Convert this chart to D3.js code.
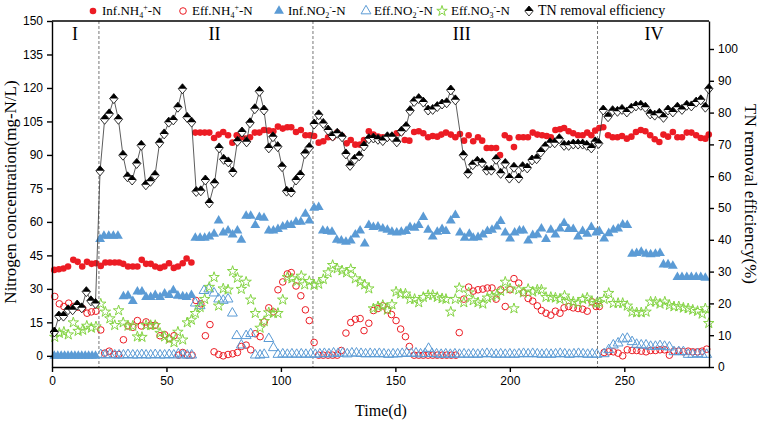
<!DOCTYPE html>
<html>
<head>
<meta charset="utf-8">
<style>
    body { margin: 0; background: #fff; }
    svg { font-family: 'Liberation Serif', 'Times New Roman', serif; }
    .axis path, .axis line { stroke: #000; stroke-width: 1.4; }
    .axis text { font-size: 12px; fill: #000; }
</style>
</head>
<body>
<svg width="762" height="425"></svg>

<script src="https://d3js.org/d3.v7.min.js"></script>
<script>
// [day, value] pairs
let infNH4 = [[1,38.5],[3,38.8],[5,39.1],[7,40],[9.3,43],[11.2,42.1],[13.2,40],[15.3,42.1],[17.3,41.2],[19.2,41.5],[21.3,40.3],[23.3,41.8],[25.3,41.8],[27.4,41.8],[29.3,41.8],[31.1,41.2],[33.2,40],[35.3,40],[37.3,40],[39.2,43],[41.1,41.2],[43.1,41.2],[45.1,40],[47.2,39.4],[49.1,40],[51.1,41.5],[53.2,39.4],[55,40],[57.1,41.5],[58.8,43.6],[60.9,41.8],
    [62.6,100],[64.7,100],[66.7,100],[68.7,100],[70.8,97.6],[72.8,99.1],[74.8,100.3],[76.9,98.8],[78.8,95.5],[80.7,98.8],[82.6,97.9],[84.6,97.3],[86.5,97.9],[88.6,100],[90.6,100],[92.6,101.2],[94.7,100.9],[96.7,100.6],[98.7,102.7],[100.8,101.8],[102.8,102.4],[104.5,102.4],[106.6,100.3],[108.7,101.2],[110.7,98.8],[112.7,98.8],[114.5,98.5],[116.5,95.5],[118.5,96.1],[120.6,97.9],[122.6,97.9],[124.6,100],[126.7,98.5],[128.7,95.2],[130.5,96.7],[132.5,94.6],[134.6,94.6],[136.3,96.7],[138.4,100.6],[140.4,99.1],[142.4,98.2],[144.5,97.9],[146.5,97.9],[148.5,98.2],[150.6,99.7],[152.3,100],[154.1,96.7],[156.1,96.4],[158.2,100.3],[160.2,100.6],[162.2,99.7],[164.3,97.9],[166.3,98.5],[168.3,98.2],[170.1,99.1],[172.1,100],[174.2,99.1],[176.2,97.9],[178.2,99.4],[180,96.4],[182,98.8],[184,96.1],[186.1,97.9],[187.9,96.4],[189.9,93.1],[191.9,93.1],[194,93.1],[195.7,89.9],[197.8,98.8],[199.8,97.6],[201.8,93.5],[203.9,97.9],[205.9,97.9],[207.9,97.9],[210,100],[212,99.1],[214.1,98.8],[216.1,98.5],[217.9,97.9],[219.9,101.2],[221.9,101.5],[223.7,102.1],[225.7,100.6],[227.7,99.7],[229.8,98.8],[231.8,98.8],[233.8,100],[235.6,98.8],[237.3,100.9],[239.1,102.1],[240.8,102.4],[242.9,98.8],[244.9,97.9],[247,97.9],[249,98.5],[251.1,97.3],[253.1,98.2],[255.1,100.3],[257.2,101.2],[259.2,100.6],[261.3,98.8],[263.3,97],[265.3,95.8],[267.1,99.1],[269.1,98.2],[271.2,100.3],[273.2,97.9],[275.2,97.9],[277.3,100],[279.3,100],[281.4,98.8],[283.4,97.6],[285.4,97.3],[286.9,99.1]]

let effNH4 = [[1.2,26.6],[3.2,23.3],[5.2,22.1],[7.3,23.6],[9.3,22.1],[11.4,21.8],[13.4,21.2],[15.3,19.1],[17.2,19.7],[19.2,20],[21.3,11.6],[23,1.2],[25,2.1],[27.1,0.6],[29.1,0.6],[31.2,7.2],[33.2,13.4],[35.3,12.8],[37.3,15.8],[39,13.4],[41.1,15.2],[43.1,13.7],[45.1,13.7],[47.2,9],[49.2,9.5],[51.2,7.7],[53.3,9],[55.3,0.3],[57.1,1.5],[59.1,0.3],[61.2,0.3],[62.9,24.8],[65,23.3],[67,9],[69,14],[70.8,1.8],[72.8,0.6],[74.8,0],[76.9,0.6],[78.9,0.9],[81,1.5],[82.7,4.2],[84.8,4.8],[86.8,2.7],[88.8,9.9],[90.9,8.6],[92.7,15.2],[94.7,21.5],[96.7,19.7],[98.7,29.6],[100.8,33.1],[102.8,36.7],[104.5,37.3],[106.6,31.3],[108.7,26.9],[110.7,20.6],[112.4,15.8],[114.5,6],[116.5,0.3],[118.5,0.3],[120.6,0.3],[122.6,0.3],[124.6,0.3],[126.4,2.4],[128.4,10.2],[130.5,14.9],[132.5,16.4],[134.6,16.7],[136.3,11.3],[138.4,14.6],[140.4,20.3],[142.4,21.2],[144.5,22.4],[146.5,20.6],[148.3,18.5],[150.3,15.8],[152.3,12],[154.4,8.6],[156.1,4.2],[158.2,0.3],[160.2,0.3],[162.2,0.3],[164.3,0.3],[166.3,0.3],[168.3,0.3],[170.4,0.3],[172.4,0.3],[174.4,0.3],[176.4,0.3],[177.9,10.4],[179.9,25.4],[182,30.8],[184,29],[186.1,29.6],[188.2,29.9],[190.2,30.4],[192.2,30.4],[194,25.4],[196,29.6],[198,22.1],[200.1,29.6],[201.8,34.6],[203.9,32.6],[205.9,28.3],[208,25.7],[210,24.5],[212,22.4],[213.8,20.3],[215.8,19.1],[217.9,18.2],[219.9,20],[221.9,19.1],[223.7,21.5],[225.7,22.1],[227.7,21.5],[229.8,21.2],[231.8,20.9],[233.8,20],[235.9,24.2],[237.7,22.1],[239.1,22.1],[241.2,1.5],[243.2,1.8],[245.2,1.8],[247.3,1.2],[249.3,0],[251.3,2.7],[253.4,2.4],[255.4,2.4],[257.4,2.1],[259.5,1.8],[261.5,2.4],[263.6,2.4],[265.6,2.7],[267.6,2.7],[269.7,0.3],[271.7,2.1],[273.8,2.1],[275.8,1.8],[277.9,2.1],[279.9,1.8],[282,1.8],[284,2.1],[286,3]]

let infNO2 = [[1,0],[2.5,0],[4,0],[5.5,0],[7,0],[8.5,0],[10,0],[11.5,0],[13,0],[14.5,0],[16,0],[17.5,0],[19,0],
    [21,52.3],[22.7,53.7],[24.8,53.7],[26.8,53.7],[28.8,53.7],[31.2,26.6],[33.2,26.9],[35.3,24.5],[37.3,28.7],[39.3,28.7],[41.1,26.3],[43.1,26.3],[45.1,27.2],[47.2,26.3],[49.2,27.8],[51.2,27.2],[53,29.3],[55,26.9],[57.1,26.6],[58.8,26.3],[60.9,27.2],
    [62.6,52.8],[64.7,52.8],[66.7,52.8],[68.7,53.4],[70.8,54.6],[72.8,60.6],[74.8,55.2],[76.9,56.1],[78.9,54.3],[81,56.1],[82.7,51.9],[84.8,62.7],[86.8,62.7],[88.8,58.5],[90.6,62.1],[92.6,61.8],[94.7,56.1],[96.7,56.1],[98.7,56.7],[100.8,57.9],[102.8,58.5],[104.5,58.5],[106.6,60],[108.7,60],[110.7,63.6],[112.4,60.6],[114.5,66.3],[116.5,66.6],[118.3,56.1],[120.3,55.8],[122.3,55.5],[124.4,51.9],[126.4,51.6],[128.4,51],[130.5,51.6],[132.5,54.3],[134.6,56.1],[136.6,50.2],[138.4,58.5],[140.4,57.6],[142.4,57.9],[144.5,57],[146.5,56.4],[148.5,55.5],[150.6,55.2],[152.6,55.5],[154.7,55.8],[156.4,57.6],[158.4,57.3],[160.2,58.5],[162.2,62.1],[164.3,56.4],[166.3,53.4],[168.3,55.5],[170.4,56.7],[172.1,55.8],[174.2,60.6],[176.2,63],[178.2,55.2],[180.3,52.8],[182.3,54.6],[184,52.8],[186.1,53.1],[188.2,54.3],[190.2,55.8],[192.2,56.4],[194.3,57.9],[196,60.3],[198,55.2],[200.1,52.5],[202.1,55.2],[204.2,56.1],[205.9,56.1],[208,51.6],[210,54],[212,54.3],[213.8,57],[215.8,52.3],[217.9,56.4],[219.9,54.3],[221.9,57],[223.7,59.4],[225.7,56.7],[227.7,56.7],[229.8,53.4],[231.8,55.8],[233.8,54.6],[235.6,57.6],[237.7,55.2],[239.1,55.8],[241.2,52.5],[243.2,54.9],[245.2,56.4],[247.3,57],[249.3,58.8],[251.3,58.5],[253.4,45.7],[255.4,46],[257.4,46.6],[259.5,45.7],[261.5,45.4],[263.6,45.7],[265.6,46],[267.1,40.9],[269.1,40.9],[271.2,40.3],[273.2,35.2],[275.2,35.2],[277.3,35.2],[279.3,35.2],[281.4,35.2],[283.4,35.2],[285.4,34.9]]

let effNO2 = [[21.3,0.5],[23.3,0.3],[25.3,0.5],[27.4,0.3],[29.3,0.3],[31.2,0.3],[33.2,0.5],[35.3,0.3],[37.3,0.3],[39.2,0.5],[41.1,0.3],[43.1,0.3],[45.1,0.5],[47.2,0.3],[49.2,0.3],[51.2,0.5],[53.2,0.3],[55.2,0.8],[57.1,0.3],[59.1,0.3],[61,0.3],
    [62.6,23.6],[64.7,22.4],[66.4,29.2],[68.5,29.9],[70.8,28.1],[72.8,25.4],[74.8,24.8],[76.9,25.4],[78.8,19.1],[80.7,9],[82.7,4.8],[84.8,9],[86.8,9.9],[88.8,0.3],[90.9,0.3],[92.7,0.6],[94.7,7.7],[96.7,3.6],[98.7,0.6],
    [100.8,0.8],[102.8,0.6],[104.8,0.8],[106.9,0.6],[108.9,0.8],[110.9,0.6],[113,0.8],[115,0.6],[117,0.8],[119,1],[121,0.8],[123,1.2],[125,1],[127,1.2],[129,0.8],[131,1.2],[133,1.2],[135,1],[137,0.8],[139,1],[141,0.8],[143,1],[145,0.8],[147,0.6],[149,0.8],[151,0.8],[153,1],[155,1.2],[157,1],[159,1.2],[161,0.8],[163,1],[164.5,3.3],[166,1],[168,0.8],[170,0.6],[172,0.8],[174,0.6],[176,0.8],[178,0.6],[180,0.8],[182,0.6],[184,0.8],[186,0.6],[188,0.8],[190,1],[192,0.8],[194,0.6],[196,0.8],[198,0.6],[200,0.8],[202,0.6],[204,0.8],[206,1],[208,0.8],[210,1],[212,0.8],[214,0.6],[216,0.8],[218,0.6],[220,0.8],[222,1],[224,0.8],[226,0.6],[228,0.8],[230,1],[232,0.8],[234,0.6],[236,0.8],[238,0.6],
    [241.2,0.9],[243.2,2.7],[245.2,4.8],[247.3,5.7],[249.3,7.5],[251.3,7.8],[253.4,6.3],[255.4,5.1],[257.4,4.8],[259.5,4.8],[261.5,4.2],[263.6,4.2],[265.6,4.5],[267.6,4.2],[269.7,3.9],[271.7,1.8],[273.8,1.8],[275.8,1.8],[277.9,0.6],[279.9,0.6],[282,0.9],[284,0.6],[286,0.6]]

let effNO3 = [[1.2,8.4],[3.2,10.2],[5.2,10.7],[7.1,9.5],[9.3,14.9],[11.4,11.1],[13.4,11.6],[15.2,13.4],[17.2,12.5],[19.2,13.1],[21.3,23.3],[23.3,19.7],[25.3,16.7],[27.4,13.7],[29.1,20.3],[31.1,14.9],[33.2,13.4],[35.3,13.4],[37.3,8.6],[39.3,8.4],[41.1,13.7],[43.1,13.7],[45.1,13.7],[47.2,10.2],[49.2,8.6],[51.2,7.5],[53.3,6],[55,10.7],[57.1,7.2],[59.1,14.9],[60.9,16.1],[62.6,19.1],[64.7,21.8],[66.7,25.4],[68.7,30.8],[70.8,35.2],[72.8,22.4],[74.8,30.1],[76.9,29.6],[78.9,37.9],[81,34.9],[82.7,29.9],[84.8,33.1],[86.8,25.1],[88.8,19.1],[90.9,12.5],[92.7,15.5],[94.7,19.4],[96.7,19.1],[98.7,19.1],[100.8,25.1],[102.8,35.2],[104.8,34.6],[106.9,33.4],[108.9,35.8],[110.4,31.9],[112.4,33.4],[114.5,31.7],[116.5,32.2],[118.5,34.3],[120.6,37.3],[122.6,40.6],[124.6,39.1],[126.7,38.2],[128.7,37.3],[130.5,38.8],[132.5,34.6],[134.6,33.1],[136.6,31.9],[138.4,30.1],[140.4,21.2],[142.4,22.1],[144.5,22.7],[146.5,20.6],[148.5,23],[150.3,28.7],[152.3,27.8],[154.4,27.8],[156.4,25.4],[158.4,25.4],[160.2,23.9],[162.2,26.3],[164.3,27.2],[166.3,27.2],[168.3,26.3],[170.4,25.7],[172.1,25.4],[174.2,19.7],[176.2,25.4],[177.9,30.4],[179.9,23.9],[182,28.3],[184,24.8],[186.1,23.9],[188.2,23.3],[190.2,26],[192.2,26.6],[194.3,27.2],[196,29],[198,33.1],[200.1,30.1],[201.8,21.2],[203.9,29.6],[205.9,28.3],[208,29.9],[210,28.7],[212,29.6],[213.8,29.6],[215.8,26.3],[217.9,26.3],[219.9,26],[221.9,25.4],[223.9,26.9],[225.7,24.5],[227.7,24.2],[229.8,23.6],[231.8,25.4],[233.8,26],[235.9,24.2],[237.9,23.6],[239.1,23.9],[241.2,25.4],[243.2,28.1],[245.2,23.6],[247.3,23.6],[249.3,23.6],[251.3,22.4],[253.4,19.7],[255.4,19.4],[257.4,19.4],[259.5,19.7],[261.5,24.2],[263.6,24.2],[265.6,23.3],[267.7,24.2],[269.7,22.7],[271.7,22.1],[273.8,22.1],[275.8,21.5],[277.9,21.2],[279.9,20.6],[282,20],[284,18.8],[285.4,21.2],[286.9,14.6]]

// TN removal efficiency (%), right axis
let tnRemoval = [[1,11],[3,16],[5,16],[7,18],[9,18],[11,19.5],[13,18.6],[15,23.7],[17,20.8],[19,20],[21,61.7],[23,77.9],[25,79.6],[27,84.4],[29,77.9],[31,66.6],[33,59.8],[35,58.8],[37,64],[39,69.7],[41,57.3],[43,58.4],[45,60.3],[47,70.5],[49,73.3],[51,77],[53,77.7],[55,81.7],[57,87.5],[59,78.5],[61,77],[63,55.2],[65,55.4],[67,58.8],[68.7,51.6],[71,57.8],[73,68.9],[75,65.3],[77,64.5],[79,61.3],[81,71],[83,73.9],[85,70.8],[86.5,76.8],[88.6,81.2],[90.6,86.7],[92.6,80.8],[94.7,68.9],[96.5,72.4],[98.6,69.3],[100.5,63],[102.5,55.3],[104.5,55],[106.6,58.8],[108.5,60.4],[110.5,67.1],[112.4,69],[114.5,76.4],[116.5,79.3],[118.5,76.6],[120.6,74.5],[122.6,72.6],[124.6,73.5],[126.7,72.4],[128.4,67],[130.2,63.4],[132.2,65.3],[134.2,66.4],[136.3,69.5],[138.4,71.8],[140.4,72],[142.4,71.6],[144.5,71.2],[146.5,72.4],[148.5,72.4],[150.6,70.8],[152.6,74.1],[154.7,75.6],[156.4,80.6],[158.2,83.5],[160.2,84.4],[162.2,83.3],[164.3,80.8],[166.3,81],[168.3,81.9],[170.4,82.7],[172.4,83.1],[174.2,87.1],[176.2,84],[179.7,66.6],[181.7,60.9],[183.8,63.6],[185.8,64.7],[187.9,64.2],[189.9,61.9],[191.9,61.9],[194,65.3],[196,60.9],[198,64],[199.8,59.4],[201.8,62.8],[203.9,59.4],[205.6,63],[207.6,62.6],[209.7,65.1],[211.7,65.5],[213.5,67.6],[215.5,69.3],[217.6,70.5],[219.6,70.5],[221.6,71.8],[223.7,69.7],[225.7,69.7],[227.7,70.1],[229.8,70.1],[231.8,70.1],[233.6,69.7],[235.6,68.9],[237.3,70.8],[238.8,70.3],[240.8,80.8],[242.9,78.7],[244.9,80.6],[247,80.4],[249,81],[251.1,80.2],[253.1,81.4],[255.1,82.1],[257.2,82.3],[259.2,81.7],[261.3,79.6],[263.3,79.2],[265.3,79.8],[267.1,78.5],[269.1,80.8],[271.2,80.2],[273.2,81.7],[275.2,81],[277.3,82.3],[279.3,82.1],[281.4,83.3],[283.4,84],[285.4,81.7],[286.9,87.5]]

let phaseBreaks = [20.5, 114, 238.3]
let phaseLabels = [["I", 10], ["II", 71], ["III", 179], ["IV", 263]]
let leftTicks = d3.range(0, 151, 15)
let rightTicks = d3.range(0, 101, 10)
let xTicks = [0, 50, 100, 150, 200, 250]

let red = "#ec1c24"
let blue = "#5b9bd5"
let green = "#84d444"

let svg = d3.select("svg")

let x = d3.scaleLinear().domain([0, 287]).range([52, 709])
let yL = d3.scaleLinear().domain([-5, 150]).range([367, 21])
let yR = d3.scaleLinear().domain([0, 108.8]).range([367, 21])

// phase dividers
svg.append("g")
    .selectAll("line")
    .data(phaseBreaks)
    .join("line")
    .attr("x1", d => x(d)).attr("x2", d => x(d))
    .attr("y1", 21).attr("y2", 367)
    .attr("stroke", "#777")
    .attr("stroke-width", 1)
    .attr("stroke-dasharray", "3,2")

svg.append("g")
    .selectAll("text")
    .data(phaseLabels)
    .join("text")
    .attr("x", d => x(d[1]))
    .attr("y", 40)
    .attr("text-anchor", "middle")
    .style("font-size", "18px")
    .text(d => d[0])

let tri = d3.symbol().type(d3.symbolTriangle).size(42)
let star = d3.symbol().type(d3.symbolStar).size(34)

function symbols(data, y, path, fill, stroke) {
    svg.append("g")
        .selectAll("path")
        .data(data)
        .join("path")
        .attr("transform", d => `translate(${x(d[0])},${y(d[1])})`)
        .attr("d", path)
        .attr("fill", fill)
        .attr("stroke", stroke)
        .attr("stroke-width", 1)
}

function circles(data, fill, stroke) {
    svg.append("g")
        .selectAll("circle")
        .data(data)
        .join("circle")
        .attr("cx", d => x(d[0]))
        .attr("cy", d => yL(d[1]))
        .attr("r", 3.3)
        .attr("fill", fill)
        .attr("stroke", stroke)
        .attr("stroke-width", 1)
}

circles(infNH4, red, "none")
circles(effNH4, "none", red)
symbols(infNO2, yL, tri(), blue, "none")
symbols(effNO2, yL, tri(), "none", blue)
symbols(effNO3, yL, star(), "none", green)

// TN line + half filled diamonds
let line = d3.line().x(d => x(d[0])).y(d => yR(d[1]))
svg.append("path")
    .datum(tnRemoval)
    .attr("d", line)
    .attr("fill", "none")
    .attr("stroke", "#333")
    .attr("stroke-width", 0.8)

function tnMarker(g) {
    g.append("path").attr("d", "M0,-5L4.2,0L0,5L-4.2,0Z")
        .attr("fill", "#fff").attr("stroke", "#000").attr("stroke-width", 0.8)
    g.append("path").attr("d", "M0,-5L4.2,0L-4.2,0Z").attr("fill", "#000")
}

svg.append("g")
    .selectAll("g")
    .data(tnRemoval)
    .join("g")
    .attr("transform", d => `translate(${x(d[0])},${yR(d[1])})`)
    .each(function () { tnMarker(d3.select(this)) })

// frame + axes
svg.append("line").attr("x1", 52).attr("x2", 709).attr("y1", 21).attr("y2", 21)
    .attr("stroke", "#000").attr("stroke-width", 1.4)

svg.append("g").attr("class", "axis")
    .attr("transform", "translate(52,0)")
    .call(d3.axisLeft(yL).tickValues(leftTicks).tickSize(5).tickSizeOuter(0).tickPadding(4))

svg.append("g").attr("class", "axis")
    .attr("transform", "translate(709,0)")
    .call(d3.axisRight(yR).tickValues(rightTicks).tickSize(5).tickSizeOuter(0).tickPadding(4))

svg.append("g").attr("class", "axis")
    .attr("transform", "translate(0,367)")
    .call(d3.axisBottom(x).tickValues(xTicks).tickSize(5).tickSizeOuter(0).tickPadding(4))

svg.append("text")
    .attr("transform", "translate(16,192) rotate(-90)")
    .attr("text-anchor", "middle")
    .style("font-size", "17px")
    .text("Nitrogen concentration(mg-N/L)")

svg.append("text")
    .attr("transform", "translate(745,194) rotate(90)")
    .attr("text-anchor", "middle")
    .style("font-size", "17px")
    .text("TN removal efficiency(%)")

svg.append("text")
    .attr("x", 381).attr("y", 416)
    .attr("text-anchor", "middle")
    .style("font-size", "16px")
    .text("Time(d)")

// legend
let legend = svg.append("g").style("font-size", "13px")

function chemLabel(tx, parts) {
    parts.forEach(p => {
        let t = tx.append("tspan").text(p[0])
        if (p[1] == "sub") t.attr("dy", 3).style("font-size", "8px")
        if (p[1] == "sup") t.attr("dy", -8).style("font-size", "8px")
        if (p[1] == "back") t.attr("dy", 5)
    })
}

function legendText(lx, parts) {
    let t = legend.append("text").attr("x", lx).attr("y", 15)
    chemLabel(t, parts)
}

legend.append("circle").attr("cx", 93).attr("cy", 11).attr("r", 3.3).attr("fill", red)
legendText(102, [["Inf.NH", ""], ["4", "sub"], ["+", "sup"], ["-N", "back"]])

legend.append("circle").attr("cx", 183).attr("cy", 11).attr("r", 3.3).attr("fill", "none").attr("stroke", red)
legendText(192, [["Eff.NH", ""], ["4", "sub"], ["+", "sup"], ["-N", "back"]])

legend.append("path").attr("transform", "translate(279,11)").attr("d", tri()).attr("fill", blue)
legendText(288, [["Inf.NO", ""], ["2", "sub"], ["-", "sup"], ["-N", "back"]])

legend.append("path").attr("transform", "translate(366,11)").attr("d", tri()).attr("fill", "none").attr("stroke", blue)
legendText(374, [["Eff.NO", ""], ["2", "sub"], ["-", "sup"], ["-N", "back"]])

legend.append("path").attr("transform", "translate(442,11)").attr("d", star()).attr("fill", "none").attr("stroke", green)
legendText(451, [["Eff.NO", ""], ["3", "sub"], ["-", "sup"], ["-N", "back"]])

tnMarker(legend.append("g").attr("transform", "translate(529,11)"))
legend.append("text").attr("x", 538).attr("y", 15).style("font-size", "14px").text("TN removal efficiency")
</script>
</body>
</html>
